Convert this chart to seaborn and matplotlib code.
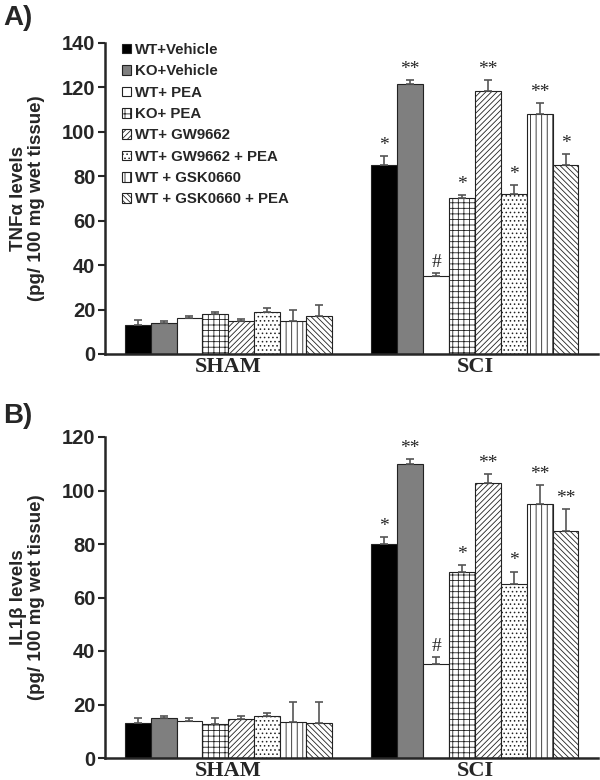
import numpy as np
import pandas as pd
import matplotlib
matplotlib.use("Agg")
import matplotlib.pyplot as plt
from matplotlib.container import BarContainer
import seaborn as sns

groups = ["WT+Vehicle", "KO+Vehicle", "WT+ PEA", "KO+ PEA", "WT+ GW9662",
          "WT+ GW9662 + PEA", "WT + GSK0660", "WT + GSK0660 + PEA"]
conditions = ["SHAM", "SCI"]

tnf_sham = [13, 14, 16, 18, 15, 19, 15, 17]
tnf_sham_err = [2.5, 1, 1, 1, 0.8, 1.8, 5, 5]
tnf_sci = [85, 121.5, 35, 70, 118.5, 72, 108, 85]
tnf_sci_err = [4, 2, 1.5, 1.5, 5, 4, 5, 5]
tnf_marks = ["*", "**", "#", "*", "**", "*", "**", "*"]

il_sham = [13, 15, 14, 12.6, 14.5, 15.7, 13.6, 13]
il_sham_err = [1.8, 0.7, 1, 2.2, 1.3, 1.2, 7.2, 8]
il_sci = [80, 110, 35, 69.7, 102.8, 65, 95, 85]
il_sci_err = [2.7, 1.8, 2.7, 2.5, 3.2, 4.7, 7, 8]
il_marks = ["*", "**", "#", "*", "**", "*", "**", "**"]

colors = ["#000000", "#7f7f7f", "#ffffff", "#ffffff", "#ffffff", "#ffffff", "#ffffff", "#ffffff"]
hatches = [None, None, None, "+++", "//////", "....", "|||", "\\\\\\\\\\\\"]

sns.set_style("ticks")
plt.rcParams["font.family"] = ["Liberation Sans", "DejaVu Sans"]
plt.rcParams["font.weight"] = "bold"
plt.rcParams["hatch.linewidth"] = 0.6
plt.rcParams["hatch.color"] = "#222222"

fig = plt.figure(figsize=(6, 7.8), dpi=100)
axA = fig.add_axes([0.175, 1 - 354 / 780, 0.822, (354 - 43) / 780])
axB = fig.add_axes([0.175, 1 - 758 / 780, 0.822, (758 - 437) / 780])


def make_df(sham, sham_err, sci, sci_err):
    rows = []
    for i, g in enumerate(groups):
        rows.append({"cond": "SHAM", "group": g, "val": sham[i], "err": sham_err[i]})
        rows.append({"cond": "SCI", "group": g, "val": sci[i], "err": sci_err[i]})
    return pd.DataFrame(rows)


def draw(ax, df, marks, ymax, ystep, ylabel):
    sns.barplot(data=df, x="cond", y="val", hue="group", order=conditions,
                hue_order=groups, palette=colors, width=0.84, errorbar=None,
                edgecolor="#222222", linewidth=0.8, legend=False, ax=ax)
    bar_conts = [c for c in ax.containers if isinstance(c, BarContainer)]
    for gi, cont in enumerate(bar_conts):
        for ci, p in enumerate(cont.patches):
            if hatches[gi]:
                p.set_hatch(hatches[gi])
            cond = conditions[ci]
            row = df[(df.group == groups[gi]) & (df.cond == cond)].iloc[0]
            xc = p.get_x() + p.get_width() / 2
            ax.errorbar(xc, row.val, yerr=[[0], [row.err]], fmt="none",
                        ecolor="#555555", elinewidth=1.2, capsize=3, capthick=1.2, zorder=1)
            if cond == "SCI":
                ax.annotate(marks[gi], (xc, row.val + row.err), xytext=(0, 1.5),
                            textcoords="offset points", ha="center", va="bottom",
                            fontsize=14, family="Liberation Serif", fontweight="normal")
    ax.set_ylim(0, ymax)
    ax.set_xlim(-0.5, 1.5)
    ax.set_yticks(np.arange(0, ymax + 1, ystep))
    ax.set_xlabel("")
    ax.set_ylabel(ylabel, fontsize=13.5, fontweight="bold", linespacing=1.05)
    ax.yaxis.set_label_coords(-0.122, 0.5)
    ax.tick_params(axis="y", labelsize=14.5, width=1.5, length=5, pad=2)
    ax.tick_params(axis="x", length=0, pad=2)
    for lab in ax.get_yticklabels():
        lab.set_fontweight("bold")
    for lab in ax.get_xticklabels():
        lab.set_family("Liberation Serif")
        lab.set_fontweight("bold")
        lab.set_fontsize(16)
    sns.despine(ax=ax)
    for s in ["left", "bottom"]:
        ax.spines[s].set_linewidth(1.8)
    return bar_conts


dfA = make_df(tnf_sham, tnf_sham_err, tnf_sci, tnf_sci_err)
dfB = make_df(il_sham, il_sham_err, il_sci, il_sci_err)
contsA = draw(axA, dfA, tnf_marks, 140, 20, "TNFα levels\n(pg/ 100 mg wet tissue)")
draw(axB, dfB, il_marks, 120, 20, "IL1β levels\n(pg/ 100 mg wet tissue)")

handles = [c.patches[0] for c in contsA]
leg = axA.legend(handles, groups, loc="upper left", bbox_to_anchor=(122 / 600, 1 - 43 / 780),
                 bbox_transform=fig.transFigure, frameon=False, fontsize=10.8,
                 handlelength=0.6, handleheight=0.6, handletextpad=0.25,
                 labelspacing=0.49, borderpad=0, borderaxespad=0)
for t in leg.get_texts():
    t.set_fontweight("bold")

fig.text(0.005, 1 - 5 / 780, "A)", fontsize=20, fontweight="bold", va="top", ha="left")
fig.text(0.005, 1 - 403 / 780, "B)", fontsize=20, fontweight="bold", va="top", ha="left")

fig.savefig("out.png", dpi=100)
